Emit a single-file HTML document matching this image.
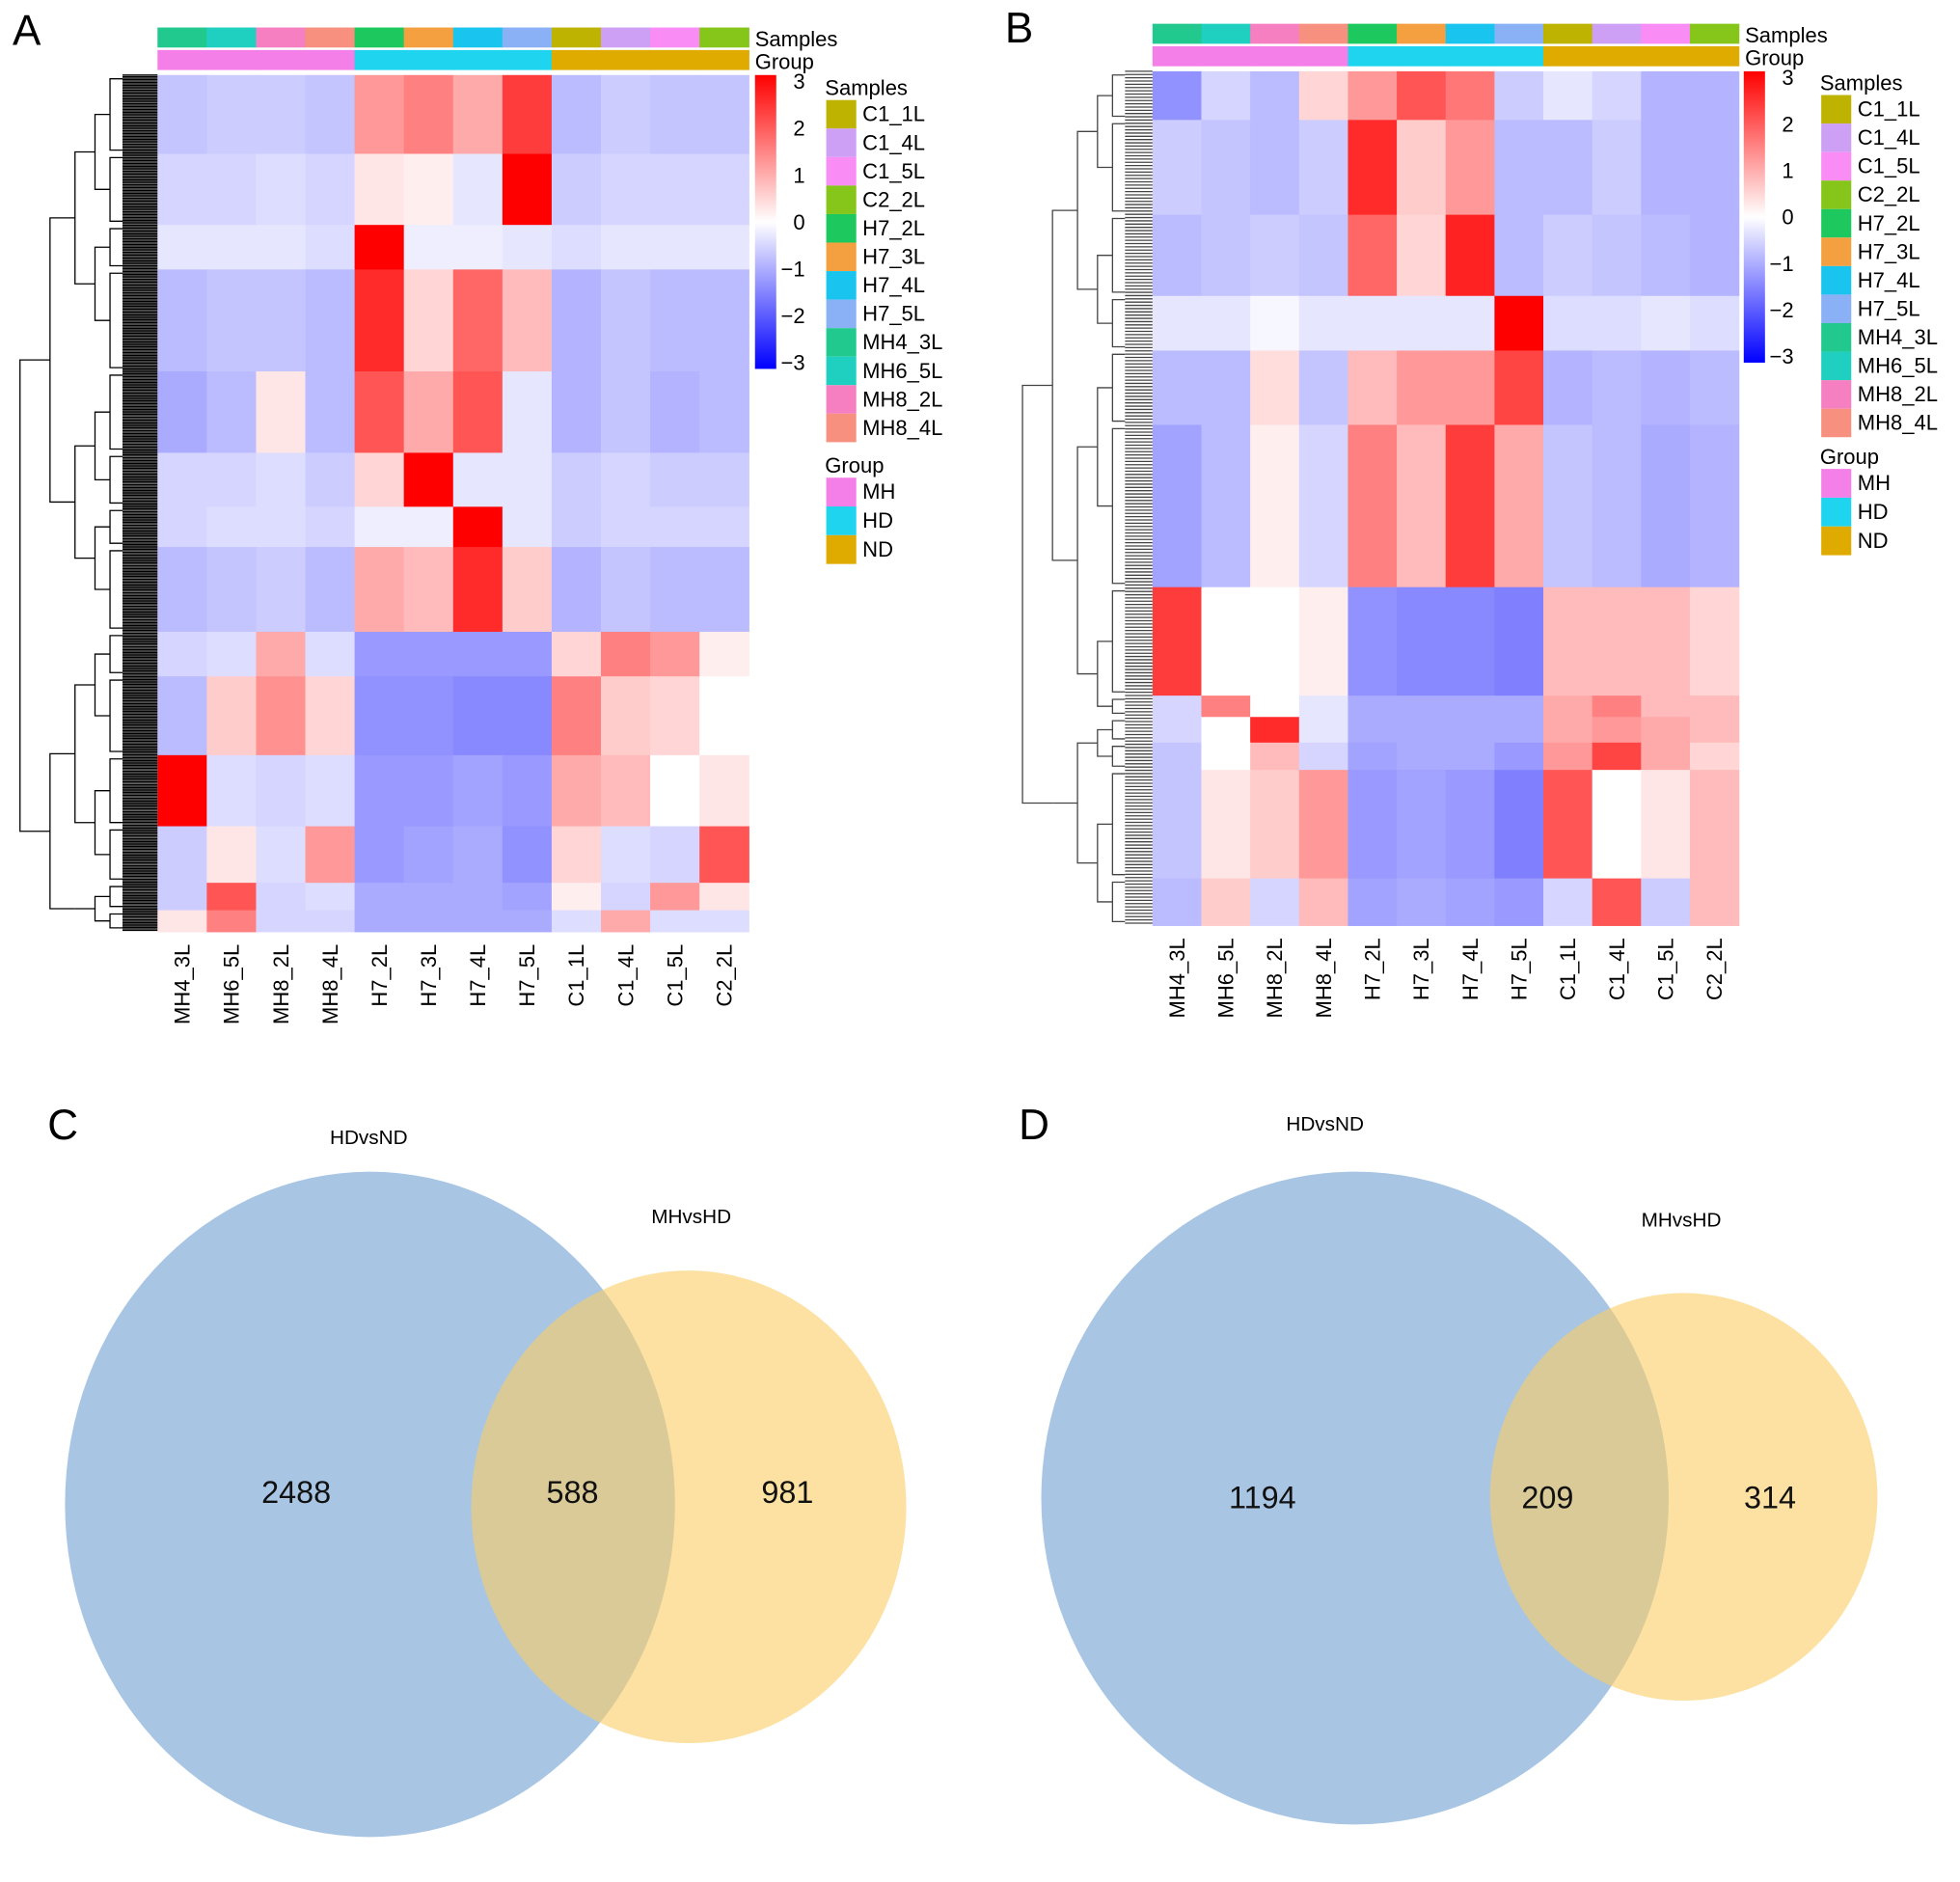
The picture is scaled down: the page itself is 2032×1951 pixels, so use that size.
<!DOCTYPE html>
<html><head><meta charset="utf-8"><style>
html,body{margin:0;padding:0;background:#fff}
svg{display:block}
text{font-family:"Liberation Sans",sans-serif}
</style></head><body>
<svg id="fig" width="2032" height="1951" viewBox="0 0 1568 1505" preserveAspectRatio="none" xmlns="http://www.w3.org/2000/svg">
<defs>
<linearGradient id="cbar" x1="0" y1="0" x2="0" y2="1">
<stop offset="0" stop-color="#ff0000"/><stop offset="0.5" stop-color="#ffffff"/><stop offset="1" stop-color="#0000ff"/>
</linearGradient>
</defs>
<g id="panelA"></g>
<g id="panelB"></g>
<g id="venn">
<text x="38" y="911" font-size="34">C</text>
<text x="815" y="911" font-size="34">D</text>
<ellipse cx="296" cy="1203" rx="244" ry="266" fill="#a8c6e4"/>
<ellipse cx="551" cy="1205" rx="174" ry="189" fill="#facd64" fill-opacity="0.6"/>
<text x="295" y="915" font-size="16" text-anchor="middle">HDvsND</text>
<text x="553" y="978" font-size="16" text-anchor="middle">MHvsHD</text>
<text x="237" y="1202" font-size="25" text-anchor="middle" fill="#111">2488</text>
<text x="458" y="1202" font-size="25" text-anchor="middle" fill="#111">588</text>
<text x="630" y="1202" font-size="25" text-anchor="middle" fill="#111">981</text>
<ellipse cx="1084" cy="1198" rx="251" ry="261" fill="#a8c6e4"/>
<ellipse cx="1347" cy="1197" rx="155" ry="163" fill="#facd64" fill-opacity="0.6"/>
<text x="1060" y="904" font-size="16" text-anchor="middle">HDvsND</text>
<text x="1345" y="981" font-size="16" text-anchor="middle">MHvsHD</text>
<text x="1010" y="1206" font-size="25" text-anchor="middle" fill="#111">1194</text>
<text x="1238" y="1206" font-size="25" text-anchor="middle" fill="#111">209</text>
<text x="1416" y="1206" font-size="25" text-anchor="middle" fill="#111">314</text>
</g>
</svg>
<script>
// ---- data ----
const samples = ["MH4_3L","MH6_5L","MH8_2L","MH8_4L","H7_2L","H7_3L","H7_4L","H7_5L","C1_1L","C1_4L","C1_5L","C2_2L"];
const sampleColors = ["#22c98f","#1fd0c0","#f57fc0","#f89080","#1dc95e","#f5a040","#19c5ee","#8ab0f5","#bdb300","#cda0f5","#f98cf5","#86c51a"];
const groups = ["MH","HD","ND"];
const groupColors = ["#f57fe8","#1ed4ee","#e0ab00"];
const legendOrder = ["C1_1L","C1_4L","C1_5L","C2_2L","H7_2L","H7_3L","H7_4L","H7_5L","MH4_3L","MH6_5L","MH8_2L","MH8_4L"];
const colorbarTicks = [3,2,1,0,-1,-2,-3];
const blocksA_bounds = [0,0.092,0.175,0.227,0.346,0.441,0.504,0.551,0.650,0.702,0.794,0.877,0.943,0.975,1];
const blocksA_values = [
 [-0.7,-0.6,-0.6,-0.7,1.2,1.5,1.0,2.3,-0.8,-0.6,-0.7,-0.7],
 [-0.5,-0.5,-0.4,-0.5,0.3,0.2,-0.3,3,-0.6,-0.5,-0.5,-0.5],
 [-0.3,-0.3,-0.3,-0.4,3,-0.2,-0.2,-0.3,-0.4,-0.3,-0.3,-0.3],
 [-0.8,-0.7,-0.7,-0.8,2.5,0.5,1.8,0.8,-0.9,-0.7,-0.8,-0.8],
 [-1.0,-0.8,0.3,-0.8,2.0,1.0,2.0,-0.3,-0.9,-0.7,-0.9,-0.8],
 [-0.5,-0.5,-0.4,-0.6,0.5,3,-0.3,-0.3,-0.6,-0.5,-0.6,-0.6],
 [-0.5,-0.4,-0.4,-0.5,-0.2,-0.2,3,-0.3,-0.6,-0.5,-0.5,-0.5],
 [-0.8,-0.7,-0.6,-0.8,1.0,0.8,2.5,0.6,-0.9,-0.7,-0.8,-0.8],
 [-0.5,-0.4,1.0,-0.4,-1.2,-1.2,-1.2,-1.2,0.5,1.5,1.2,0.2],
 [-0.8,0.6,1.3,0.5,-1.3,-1.3,-1.4,-1.4,1.5,0.6,0.5,0.0],
 [3,-0.4,-0.5,-0.4,-1.2,-1.2,-1.1,-1.2,1.0,0.8,0.0,0.3],
 [-0.6,0.3,-0.4,1.2,-1.2,-1.1,-1.0,-1.3,0.5,-0.4,-0.5,2.0],
 [-0.6,2.0,-0.5,-0.4,-1.0,-1.0,-1.0,-1.1,0.2,-0.5,1.2,0.3],
 [0.3,1.5,-0.5,-0.5,-1.0,-1.0,-1.0,-1.0,-0.4,1.0,-0.4,-0.4]
];
const blocksB_bounds = [0,0.057,0.168,0.263,0.327,0.414,0.604,0.731,0.756,0.786,0.818,0.945,1];
const blocksB_values = [
 [-1.3,-0.5,-0.8,0.5,1.2,2.0,1.6,-0.6,-0.3,-0.5,-0.9,-0.9],
 [-0.6,-0.7,-0.8,-0.6,2.5,0.6,1.2,-0.8,-0.8,-0.6,-0.9,-0.9],
 [-0.8,-0.7,-0.6,-0.7,1.8,0.5,2.6,-0.8,-0.6,-0.7,-0.8,-0.9],
 [-0.3,-0.3,-0.1,-0.3,-0.3,-0.3,-0.3,3,-0.4,-0.4,-0.3,-0.4],
 [-0.8,-0.8,0.4,-0.7,0.8,1.2,1.2,2.2,-0.9,-0.8,-0.9,-0.8],
 [-1.1,-0.8,0.2,-0.5,1.5,0.8,2.3,1.0,-0.7,-0.8,-1.0,-0.9],
 [2.3,0.0,0.0,0.2,-1.3,-1.4,-1.4,-1.5,0.8,0.8,0.8,0.5],
 [-0.5,1.5,0.0,-0.3,-1.0,-1.0,-1.0,-1.0,1.0,1.5,0.8,0.8],
 [-0.5,0.0,2.5,-0.3,-1.0,-1.0,-1.0,-1.0,1.0,1.2,1.0,0.8],
 [-0.7,0.0,0.8,-0.5,-1.1,-1.0,-1.0,-1.2,1.2,2.2,1.0,0.5],
 [-0.7,0.3,0.6,1.2,-1.2,-1.1,-1.2,-1.5,2.0,0.0,0.3,0.8],
 [-0.8,0.6,-0.5,0.8,-1.1,-1.0,-1.1,-1.2,-0.5,2.0,-0.6,0.8]
];
// ---- helpers ----
const NS = "http://www.w3.org/2000/svg";
function mk(tag, attrs, parent){const e=document.createElementNS(NS,tag);for(const k in attrs)e.setAttribute(k,attrs[k]);parent.appendChild(e);return e;}
function zcolor(z){z=Math.max(-3,Math.min(3,z));const t=Math.abs(z)/3;const c=Math.round(255*(1-t));return z>=0?`rgb(255,${c},${c})`:`rgb(${c},${c},255)`;}
function drawHeatmap(g, o, bounds, values, label){
  const colW=(o.x1-o.x0)/samples.length;
  const xs=i=>o.x0+i*colW;
  const ys=f=>o.y0+f*(o.y1-o.y0);
  const pl=mk("text",{x:o.labX,y:o.labY,"font-size":34},g);pl.textContent=label;
  
  
  samples.forEach((s,i)=>{
    const r=mk("rect",{x:xs(i),y:o.sb0,width:colW+0.5,height:o.sb1-o.sb0,fill:sampleColors[i]},g);
    
    
    const gi=i<4?0:(i<8?1:2);
    const r2=mk("rect",{x:xs(i),y:o.gb0,width:colW+0.5,height:o.gb1-o.gb0,fill:groupColors[gi]},g);
    
    
    const t=mk("text",{x:0,y:0,"font-size":17,"text-anchor":"end",transform:`translate(${xs(i)+colW/2+6},${o.y1+10}) rotate(-90)`},g);
    t.textContent=s;
    
    
  });
  const ts=mk("text",{x:o.x1+5,y:o.sb1-1,"font-size":17},g);ts.textContent="Samples";
  
  
  const tg=mk("text",{x:o.x1+5,y:o.gb1-1,"font-size":17},g);tg.textContent="Group";
  
  
  for(let b=0;b<values.length;b++){
    for(let i=0;i<samples.length;i++){
      const c=mk("rect",{x:xs(i),y:ys(bounds[b]),width:colW+0.5,height:ys(bounds[b+1])-ys(bounds[b])+0.5,fill:zcolor(values[b][i])},g);
      
      
    }
  }
  const dg=mk("g",{stroke:o.dendroColor,"stroke-width":1,fill:"none"},g);
  
  
  const leafX=o.x0, combW=o.combW;
  for(let y=o.y0;y<=o.y1;y+=o.leafStep){mk("line",{x1:leafX-combW,y1:y,x2:leafX,y2:y},dg);}
  const mids=[];
  for(let b=0;b<values.length;b++){
    const a=ys(bounds[b]),c=ys(bounds[b+1]);const xb=leafX-combW-10;
    mk("path",{d:`M${leafX-combW},${a+3}H${xb}V${c-3}H${leafX-combW}`},dg);
    mids.push([(a+c)/2,xb]);
  }
  let level=mids, dx=12;
  while(level.length>1){
    const next=[];
    for(let k=0;k<level.length;k+=2){
      if(k+1>=level.length){next.push([level[k][0],level[k][1]-dx]);mk("line",{x1:level[k][1],y1:level[k][0],x2:level[k][1]-dx,y2:level[k][0]},dg);continue;}
      const a=level[k],b=level[k+1];const xn=Math.min(a[1],b[1])-dx;
      mk("path",{d:`M${a[1]},${a[0]}H${xn}V${b[0]}H${b[1]}`},dg);
      next.push([(a[0]+b[0])/2,xn]);
    }
    level=next;dx+=4;
  }
  const cb=mk("rect",{x:o.cbx,y:o.y0,width:17,height:o.cbh,fill:"url(#cbar)"},g);
  
  
  colorbarTicks.forEach(v=>{
    const y=o.y0+5+(3-v)/6*(o.cbh-10);
    const t=mk("text",{x:o.cbx+40,y:y+6,"font-size":17,"text-anchor":"end"},g);
    t.textContent=v<0?"\u2212"+(-v):String(v);
    
    
  });
  const lt=mk("text",{x:o.lgx,y:o.lgy-4,"font-size":17},g);lt.textContent="Samples";
  
  
  legendOrder.forEach((s,k)=>{
    const y=o.lgy+k*22.8;
    const r=mk("rect",{x:o.lgx+1,y:y,width:24,height:22.8,fill:sampleColors[samples.indexOf(s)]},g);
    
    
    const t=mk("text",{x:o.lgx+30,y:y+17,"font-size":17},g);t.textContent=s;
    
    
  });
  const gt=mk("text",{x:o.lgx,y:o.ggy-4,"font-size":17},g);gt.textContent="Group";
  
  
  groups.forEach((s,k)=>{
    const y=o.ggy+k*23;
    const r=mk("rect",{x:o.lgx+1,y:y,width:24,height:23,fill:groupColors[k]},g);
    
    
    const t=mk("text",{x:o.lgx+30,y:y+17,"font-size":17},g);t.textContent=s;
    
    
  });
}
drawHeatmap(document.getElementById("panelA"),
 {x0:126,x1:599,y0:60,y1:745,sb0:22,sb1:38,gb0:40,gb1:56,labX:10,labY:36,cbx:604,cbh:235,lgx:660,lgy:80,ggy:382,dendroColor:"#000",combW:28,leafStep:1.2},
 blocksA_bounds,blocksA_values,"A");
drawHeatmap(document.getElementById("panelB"),
 {x0:922,x1:1391,y0:57,y1:740,sb0:19,sb1:35,gb0:37,gb1:53,labX:804,labY:34,cbx:1395,cbh:233,lgx:1456,lgy:76,ggy:375,dendroColor:"#444",combW:22,leafStep:2.6},
 blocksB_bounds,blocksB_values,"B");
</script>
</body></html>
